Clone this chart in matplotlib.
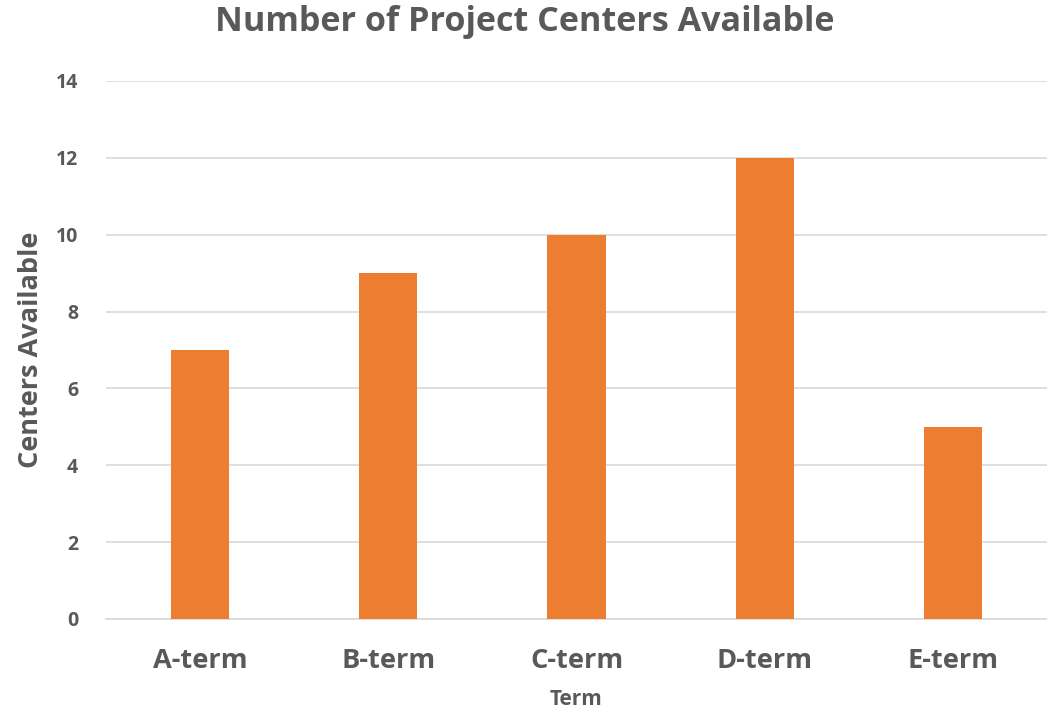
import matplotlib
matplotlib.use("Agg")
import matplotlib.pyplot as plt

categories = ["A-term", "B-term", "C-term", "D-term", "E-term"]
values = [7, 9, 10, 12, 5]
yticks = [0, 2, 4, 6, 8, 10, 12, 14]

plt.rcParams['font.family'] = ['Open Sans', 'DejaVu Sans']
grey = "#595959"

fig = plt.figure(figsize=(10.47, 7.13), dpi=100)
ax = fig.add_axes([106/1047, 1 - 619/713, (1047-106)/1047, (619-81)/713])
x = range(len(categories))
ax.bar(x, values, width=0.31, color="#ED7D31", zorder=3)
ax.set_xlim(-0.5, len(categories) - 0.5)
ax.set_ylim(0, 14)
ax.set_yticks(yticks)
ax.set_yticklabels([str(v) for v in yticks], fontsize=14, fontweight='bold', color=grey)
ax.set_xticks(list(x))
ax.set_xticklabels(categories, fontsize=19.6, fontweight='bold', color=grey)
ax.grid(axis='y', color="#D9D9D9", linewidth=1.2, zorder=0)
for s in ["top", "right", "left"]:
    ax.spines[s].set_visible(False)
ax.spines["bottom"].set_color("#D9D9D9")
ax.spines["bottom"].set_linewidth(1.2)
ax.tick_params(axis='both', length=0)
ax.tick_params(axis='y', pad=20)
ax.tick_params(axis='x', pad=21)
ax.set_xlabel("Term", fontsize=15, fontweight='bold', color=grey, labelpad=11)
ax.set_ylabel("Centers Available", fontsize=19.5, fontweight='bold', color=grey, labelpad=8.5)
fig.text(525/1047, 1 - 22/713, "Number of Project Centers Available", ha='center', va='center',
         fontsize=24.6, fontweight='bold', color=grey)
fig.savefig("out.png", dpi=100)
